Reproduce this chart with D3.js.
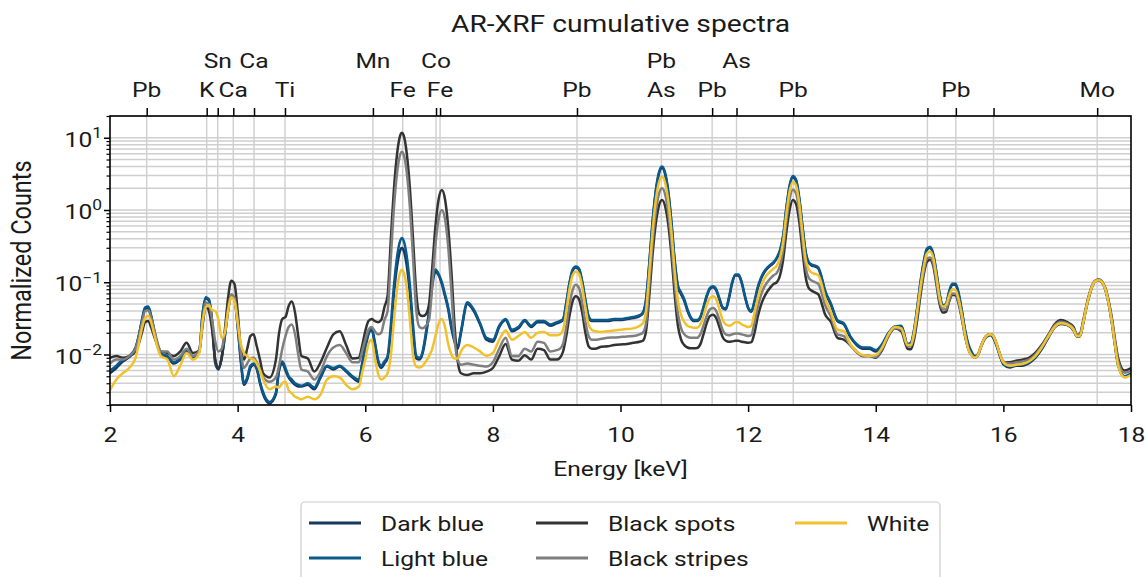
<!DOCTYPE html>
<html><head><meta charset="utf-8">
<script src="https://cdn.jsdelivr.net/npm/d3@7"></script>
<style>
body{margin:0;background:#fff}
svg{display:block}
text{font-family:Roboto,"Noto Sans",sans-serif;fill:#1a1a1a}
</style>
</head><body>
<svg id="c" width="1146" height="577"></svg>
<script>
// ---------------- data ----------------
const energy = [
2.0,2.1,2.2,2.3,2.4,2.45,2.5,2.55,2.6,2.65,2.7,2.75,2.8,
2.9,3.0,3.1,3.2,3.3,3.4,
3.45,3.5,3.55,3.6,3.65,3.7,3.75,3.8,3.85,3.9,3.95,4.0,
4.05,4.1,4.15,4.2,4.25,4.3,4.35,4.4,4.5,4.6,
4.65,4.7,4.75,4.8,4.85,4.9,4.95,5.0,
5.1,5.2,5.3,5.4,5.5,5.6,5.7,5.8,5.9,
5.95,6.0,6.05,6.1,6.15,6.2,6.25,6.3,
6.35,6.4,6.45,6.5,6.55,6.575,6.6,6.65,6.7,6.75,6.8,6.85,6.9,
6.95,7.0,7.05,7.1,7.15,7.2,7.25,7.3,7.35,7.4,7.45,7.5,
7.6,7.7,7.8,7.9,8.0,8.1,8.2,8.3,8.4,8.5,8.6,8.7,8.8,8.9,9.0,9.05,
9.1,9.15,9.2,9.25,9.3,9.35,9.4,9.45,9.5,9.55,9.6,
9.7,9.8,9.9,10.0,10.1,10.2,10.3,
10.35,10.4,10.45,10.5,10.55,10.6,10.65,10.7,10.75,10.8,10.85,10.9,
10.95,11.0,11.05,11.1,11.15,11.2,11.25,11.3,11.35,11.4,11.45,11.5,11.55,11.6,
11.65,11.7,11.75,11.8,11.85,11.9,11.95,12.0,12.05,12.1,12.15,12.2,12.25,12.3,12.35,12.4,
12.45,12.5,12.55,12.6,12.65,12.7,12.75,12.8,12.85,12.9,12.95,13.0,13.05,13.1,13.15,13.2,
13.3,13.4,13.5,13.6,13.7,13.8,13.9,14.0,14.1,14.2,14.3,14.4,14.5,
14.55,14.6,14.65,14.7,14.75,14.8,14.85,14.9,14.95,15.0,15.05,
15.1,15.15,15.2,15.25,15.3,15.35,15.4,15.45,15.5,
15.55,15.6,15.65,15.7,15.75,15.8,15.85,15.9,15.95,16.0,
16.1,16.2,16.3,16.4,16.5,16.6,16.7,16.8,16.9,17.0,17.1,
17.15,17.2,17.25,17.3,17.35,17.4,17.45,17.5,17.55,17.6,17.65,17.7,17.75,17.8,17.9,18.0
];

const darkBlue = [
0.0055,0.0065,0.008,0.0092,0.012,0.018,0.029,0.043,0.044,0.032,0.02,0.013,0.0098,
0.0092,0.0075,0.0085,0.011,0.009,0.011,
0.035,0.06,0.056,0.028,0.0075,0.0062,0.009,0.018,0.04,0.064,0.058,0.025,
0.008,0.0038,0.0045,0.0065,0.0072,0.0063,0.004,0.0028,0.0021,0.0028,
0.006,0.0075,0.006,0.0048,0.0042,0.0038,0.0036,0.0036,
0.0038,0.0033,0.0048,0.0068,0.0062,0.0068,0.0058,0.0048,0.0042,
0.007,0.012,0.019,0.022,0.014,0.008,0.0065,0.0075,
0.009,0.02,0.07,0.17,0.28,0.3,0.28,0.17,0.07,0.02,0.0088,0.0085,0.0105,
0.018,0.037,0.09,0.14,0.125,0.095,0.064,0.042,0.023,0.015,0.012,0.02,
0.05,0.04,0.026,0.016,0.015,0.024,0.03,0.021,0.023,0.029,0.024,0.028,0.028,0.025,0.027,0.028,
0.03,0.05,0.095,0.145,0.16,0.15,0.1,0.055,0.033,0.029,0.029,
0.029,0.029,0.03,0.03,0.031,0.032,0.034,
0.037,0.056,0.17,0.63,1.7,3.1,3.8,3.1,1.7,0.63,0.19,0.085,
0.068,0.055,0.04,0.032,0.029,0.029,0.032,0.044,0.063,0.08,0.085,0.077,0.058,0.044,
0.042,0.06,0.097,0.124,0.124,0.097,0.063,0.044,0.039,0.053,0.082,0.11,0.135,0.155,0.17,0.185,
0.215,0.27,0.43,1.05,2.1,2.85,2.55,1.45,0.6,0.26,0.185,0.17,0.165,0.155,0.115,0.078,
0.048,0.029,0.026,0.0175,0.0135,0.012,0.012,0.011,0.0135,0.0195,0.024,0.0245,0.0135,
0.014,0.021,0.043,0.095,0.18,0.28,0.3,0.24,0.135,0.068,0.046,
0.048,0.072,0.092,0.092,0.068,0.039,0.021,0.0135,0.0105,
0.0093,0.0098,0.0128,0.016,0.018,0.0185,0.0165,0.0128,0.0093,0.0073,
0.0066,0.007,0.007,0.0076,0.009,0.0118,0.0168,0.0235,0.0265,0.0255,0.0215,
0.0178,0.0178,0.0268,0.0445,0.067,0.091,0.104,0.106,0.098,0.078,0.05,0.0275,0.0132,0.007,0.0049,0.0054
];

const lightBlue = [
0.006,0.007,0.0085,0.0095,0.0125,0.018,0.03,0.045,0.046,0.033,0.02,0.013,0.0102,
0.0095,0.0078,0.0088,0.0112,0.0092,0.0112,
0.036,0.062,0.058,0.029,0.008,0.0065,0.009,0.018,0.042,0.066,0.06,0.026,
0.0085,0.004,0.0048,0.007,0.0075,0.0065,0.0042,0.003,0.0022,0.003,
0.0065,0.008,0.0065,0.005,0.0045,0.004,0.0038,0.0037,
0.004,0.0035,0.005,0.007,0.0065,0.007,0.006,0.005,0.0045,
0.0075,0.013,0.02,0.023,0.015,0.0085,0.007,0.008,
0.0095,0.025,0.09,0.23,0.38,0.41,0.38,0.23,0.09,0.025,0.0095,0.009,0.011,
0.02,0.04,0.1,0.15,0.13,0.1,0.068,0.045,0.025,0.016,0.013,0.021,
0.053,0.042,0.027,0.017,0.016,0.025,0.031,0.022,0.024,0.03,0.025,0.029,0.029,0.026,0.028,0.029,
0.031,0.052,0.098,0.15,0.165,0.155,0.103,0.057,0.034,0.03,0.03,
0.03,0.03,0.031,0.031,0.032,0.033,0.035,
0.038,0.058,0.18,0.66,1.78,3.25,4.0,3.25,1.78,0.66,0.2,0.09,
0.072,0.058,0.042,0.033,0.03,0.03,0.033,0.045,0.065,0.083,0.088,0.08,0.06,0.045,
0.043,0.062,0.1,0.128,0.128,0.1,0.065,0.045,0.04,0.055,0.085,0.115,0.14,0.16,0.175,0.19,
0.22,0.28,0.45,1.1,2.2,2.95,2.65,1.5,0.62,0.27,0.19,0.175,0.17,0.16,0.12,0.08,
0.05,0.03,0.027,0.018,0.014,0.0125,0.0125,0.0115,0.014,0.02,0.0245,0.025,0.014,
0.0145,0.022,0.045,0.1,0.19,0.29,0.31,0.25,0.14,0.07,0.048,
0.05,0.075,0.095,0.095,0.07,0.04,0.022,0.014,0.011,
0.0095,0.01,0.013,0.0165,0.0185,0.019,0.017,0.013,0.0095,0.0075,
0.0068,0.0072,0.0072,0.0078,0.0092,0.012,0.017,0.024,0.027,0.026,0.022,
0.018,0.018,0.027,0.045,0.068,0.092,0.105,0.107,0.099,0.079,0.051,0.028,0.0135,0.0072,0.005,0.0055
];

const blackSpots = [
0.009,0.0095,0.009,0.0095,0.011,0.014,0.02,0.028,0.029,0.023,0.017,0.013,0.011,
0.0105,0.0095,0.011,0.0145,0.0105,0.0115,
0.025,0.046,0.04,0.022,0.0085,0.0065,0.009,0.022,0.06,0.105,0.095,0.04,
0.012,0.0085,0.012,0.018,0.019,0.013,0.0085,0.0055,0.0048,0.0085,
0.02,0.031,0.033,0.047,0.054,0.038,0.018,0.0095,
0.0088,0.0058,0.0078,0.0125,0.019,0.021,0.0135,0.0088,0.009,
0.013,0.021,0.029,0.031,0.029,0.028,0.03,0.045,
0.065,0.38,1.97,6.1,10.9,11.7,10.9,6.1,1.97,0.38,0.07,0.036,0.034,
0.036,0.05,0.16,0.6,1.41,1.89,1.41,0.58,0.14,0.025,0.008,0.0055,
0.0052,0.0055,0.0055,0.0058,0.0065,0.0095,0.014,0.0085,0.0082,0.0098,0.0085,0.012,0.0115,0.0085,0.0085,0.009,
0.011,0.018,0.034,0.055,0.064,0.058,0.038,0.02,0.013,0.012,0.012,
0.0128,0.013,0.0135,0.0138,0.014,0.0145,0.015,
0.0155,0.021,0.063,0.23,0.62,1.12,1.37,1.12,0.62,0.23,0.066,0.025,
0.016,0.0135,0.0125,0.0122,0.0122,0.0123,0.0138,0.019,0.027,0.034,0.0355,0.032,0.024,0.0175,
0.0155,0.015,0.0152,0.0155,0.0155,0.015,0.0148,0.0145,0.0148,0.02,0.033,0.048,0.062,0.074,0.085,0.095,
0.1,0.125,0.21,0.5,1.0,1.37,1.22,0.7,0.28,0.12,0.083,0.076,0.072,0.068,0.052,0.037,
0.028,0.017,0.016,0.0135,0.0108,0.0095,0.0095,0.009,0.0115,0.018,0.023,0.021,0.012,
0.0118,0.016,0.03,0.065,0.125,0.19,0.205,0.17,0.095,0.05,0.038,
0.039,0.054,0.067,0.066,0.05,0.031,0.018,0.012,0.0098,
0.009,0.0098,0.013,0.0165,0.0185,0.019,0.0175,0.0135,0.0098,0.0078,
0.0078,0.0082,0.0085,0.009,0.0105,0.0135,0.0185,0.026,0.03,0.028,0.024,
0.019,0.0195,0.029,0.047,0.07,0.094,0.107,0.109,0.101,0.082,0.055,0.032,0.016,0.0088,0.006,0.0065
];

const blackStripes = [
0.0075,0.0085,0.0085,0.0095,0.012,0.017,0.027,0.04,0.041,0.031,0.021,0.014,0.011,
0.011,0.0085,0.0095,0.012,0.0095,0.0115,
0.028,0.052,0.05,0.03,0.015,0.011,0.012,0.02,0.042,0.068,0.062,0.03,
0.011,0.0065,0.0075,0.0088,0.009,0.0078,0.0062,0.0048,0.0042,0.0048,
0.007,0.012,0.018,0.024,0.026,0.019,0.01,0.0062,
0.0058,0.0045,0.0058,0.0095,0.0125,0.0135,0.0105,0.0078,0.0078,
0.011,0.016,0.022,0.024,0.021,0.019,0.02,0.03,
0.04,0.21,1.08,3.35,5.95,6.4,5.95,3.35,1.08,0.21,0.04,0.024,0.023,
0.025,0.03,0.09,0.33,0.75,1.0,0.75,0.31,0.075,0.016,0.0085,0.0072,
0.0075,0.0072,0.007,0.0068,0.0078,0.012,0.017,0.0095,0.0095,0.012,0.011,0.015,0.0145,0.011,0.0115,0.012,
0.014,0.024,0.048,0.078,0.092,0.083,0.052,0.028,0.018,0.016,0.016,
0.0165,0.017,0.0172,0.0175,0.0178,0.018,0.019,
0.02,0.027,0.09,0.33,0.9,1.63,2.0,1.63,0.9,0.33,0.095,0.037,
0.023,0.019,0.0175,0.017,0.017,0.017,0.019,0.025,0.034,0.042,0.044,0.04,0.03,0.022,
0.019,0.0185,0.019,0.0195,0.0195,0.019,0.0185,0.018,0.0185,0.028,0.045,0.066,0.085,0.1,0.113,0.125,
0.135,0.17,0.29,0.7,1.4,1.9,1.7,0.97,0.39,0.165,0.115,0.105,0.1,0.095,0.072,0.05,
0.033,0.019,0.018,0.0135,0.011,0.0095,0.0095,0.0092,0.012,0.0185,0.0235,0.022,0.013,
0.013,0.018,0.035,0.075,0.14,0.21,0.22,0.185,0.105,0.055,0.042,
0.042,0.056,0.07,0.069,0.052,0.032,0.018,0.012,0.0098,
0.009,0.0098,0.013,0.0165,0.0185,0.019,0.0175,0.0135,0.01,0.008,
0.0075,0.0078,0.008,0.0085,0.01,0.013,0.018,0.025,0.0285,0.027,0.023,
0.019,0.019,0.028,0.046,0.069,0.093,0.106,0.108,0.1,0.08,0.053,0.03,0.015,0.008,0.0056,0.006
];

const white = [
0.0032,0.0045,0.0055,0.0065,0.009,0.014,0.023,0.032,0.034,0.027,0.018,0.012,0.0095,
0.0085,0.005,0.007,0.0105,0.0085,0.0105,
0.028,0.045,0.048,0.041,0.04,0.03,0.017,0.02,0.04,0.062,0.055,0.028,
0.014,0.0105,0.0095,0.0088,0.0085,0.0075,0.006,0.0045,0.0033,0.0036,
0.0035,0.004,0.0042,0.0032,0.0029,0.0026,0.0025,0.0024,
0.0026,0.0024,0.0028,0.0045,0.005,0.0048,0.0038,0.0033,0.0036,
0.0055,0.0085,0.014,0.016,0.009,0.0055,0.0045,0.0048,
0.0055,0.0095,0.03,0.083,0.139,0.149,0.139,0.083,0.03,0.0095,0.0068,0.0066,0.007,
0.008,0.0095,0.012,0.018,0.027,0.031,0.024,0.014,0.01,0.0088,0.0088,0.011,
0.0135,0.0125,0.011,0.0095,0.0105,0.016,0.0215,0.016,0.018,0.0205,0.017,0.02,0.0205,0.0185,0.0185,0.019,
0.022,0.04,0.08,0.125,0.141,0.13,0.085,0.045,0.026,0.022,0.021,
0.0205,0.021,0.0215,0.022,0.0225,0.023,0.025,
0.027,0.04,0.13,0.48,1.3,2.36,2.89,2.36,1.3,0.48,0.14,0.055,
0.035,0.028,0.025,0.024,0.0235,0.0235,0.026,0.034,0.048,0.06,0.064,0.058,0.042,0.03,
0.026,0.025,0.026,0.028,0.028,0.026,0.025,0.024,0.025,0.038,0.06,0.085,0.11,0.128,0.142,0.155,
0.17,0.22,0.37,0.9,1.8,2.45,2.2,1.25,0.5,0.21,0.15,0.135,0.13,0.125,0.095,0.063,
0.038,0.022,0.021,0.014,0.011,0.0098,0.0095,0.0098,0.0125,0.019,0.024,0.023,0.0135,
0.0135,0.02,0.04,0.085,0.16,0.25,0.267,0.22,0.12,0.062,0.046,
0.048,0.065,0.08,0.078,0.058,0.035,0.019,0.012,0.0098,
0.009,0.0098,0.013,0.0165,0.0185,0.019,0.0175,0.0135,0.0098,0.0078,
0.007,0.0072,0.0074,0.008,0.0095,0.0125,0.0175,0.024,0.027,0.026,0.022,
0.018,0.018,0.027,0.045,0.068,0.092,0.105,0.107,0.099,0.079,0.051,0.028,0.0135,0.007,0.0048,0.0052
];

const seriesNames  = ["Dark blue","Light blue","Black spots","Black stripes","White"];
const seriesValues = [darkBlue, lightBlue, blackSpots, blackStripes, white];
const seriesColors = ["#17375e","#0b5a8c","#333333","#7f7f7f","#f2c12e"];

const xTicks = [2,4,6,8,10,12,14,16,18];
const yMajor = [0.01,0.1,1,10];
const yTickExp = ["\u22122","\u22121","0","1"];

// element lines (top axis), lower-row label and upper-row label
const elementEnergy = [2.575,3.515,3.688,3.932,4.257,4.742,6.12,6.587,7.109,7.172,9.318,10.64,11.436,11.818,12.707,14.81,15.255,15.846,17.47];
const elementLow    = ["Pb","K","","Ca","","Ti","","Fe","","Fe","Pb","As","Pb","","Pb","","Pb","","Mo"];
const elementHigh   = ["","","Sn","","Ca","","Mn","","Co","","","Pb","","As","","","","",""];

const titleText = "AR-XRF cumulative spectra";
const xLabel = "Energy [keV]";
const yLabel = "Normalized Counts";

// ---------------- drawing ----------------
const svg = d3.select("#c");
const X0 = 110, X1 = 1131, Y0 = 116, Y1 = 405;
const SX = 1.2;            // horizontal stretch of the text in the reference
const FS = 20.5;
const x = d3.scaleLinear().domain([2,18]).range([X0,X1]);
const y = d3.scaleLog().domain([0.002,20]).range([Y1,Y0]);
const gridColor = "#cfcfcf";

svg.append("rect").attr("width",1146).attr("height",577).attr("fill","#fff");

// horizontal grid (major + minor)
const gridVals = [];
const minorVals = [];
for (let k=-3;k<=1;k++) for (let m=1;m<=9;m++){
  const v = +(m*Math.pow(10,k)).toPrecision(6);
  if (v>=0.002 && v<=20){ gridVals.push(v); if (m!==1) minorVals.push(v); }
}
svg.append("g").selectAll("line").data(gridVals).join("line")
  .attr("x1",X0).attr("x2",X1).attr("y1",d=>y(d)).attr("y2",d=>y(d))
  .attr("stroke",gridColor).attr("stroke-width",1.4);
// vertical grid at element lines
svg.append("g").selectAll("line").data(elementEnergy).join("line")
  .attr("x1",d=>x(d)).attr("x2",d=>x(d)).attr("y1",Y0).attr("y2",Y1)
  .attr("stroke",gridColor).attr("stroke-width",1.4);

// spectra
svg.append("clipPath").attr("id","plotclip").append("rect")
  .attr("x",X0).attr("y",Y0).attr("width",X1-X0).attr("height",Y1-Y0);
const line = d3.line().curve(d3.curveMonotoneX);
const gLines = svg.append("g").attr("clip-path","url(#plotclip)");
seriesValues.forEach((vals,si)=>{
  const n = Math.min(vals.length, energy.length);
  if (vals.length!==energy.length) console.warn(seriesNames[si], vals.length, energy.length);
  const pts = d3.range(n).map(i=>[x(energy[i]), y(vals[i])]);
  gLines.append("path").attr("d",line(pts)).attr("fill","none")
    .attr("stroke",seriesColors[si]).attr("stroke-width",2.5)
    .attr("stroke-linejoin","round");
});

function styleAxis(g){
  g.attr("font-size",null).attr("font-family",null);
  g.select(".domain").remove();
  g.selectAll(".tick line").attr("stroke","#000").attr("stroke-width",1.5);
}

// bottom axis
const gx = svg.append("g").attr("transform",`translate(0,${Y1})`)
  .call(d3.axisBottom(x).tickValues(xTicks).tickSize(7).tickFormat(d3.format("d")));
styleAxis(gx);
gx.selectAll(".tick text").attr("y",37).attr("dy",null)
  .attr("transform",`scale(${SX},1)`).attr("font-size",FS).attr("fill","#1a1a1a");

// top axis (element lines)
const gt = svg.append("g").attr("transform",`translate(0,${Y0})`)
  .call(d3.axisTop(x).tickValues(elementEnergy).tickSize(8).tickFormat(""));
styleAxis(gt);
gt.selectAll(".tick text").remove();
elementEnergy.forEach((e,i)=>{
  [[elementLow[i],97],[elementHigh[i],68]].forEach(([lab,yy])=>{
    if (!lab) return;
    svg.append("g").attr("transform",`translate(${x(e)},${yy}) scale(${SX},1)`)
      .append("text").attr("text-anchor","middle").attr("font-size",FS).text(lab);
  });
});

// left axis: minor + major ticks
const gym = svg.append("g").attr("transform",`translate(${X0},0)`)
  .call(d3.axisLeft(y).tickValues(minorVals).tickSize(3.5).tickFormat(""));
styleAxis(gym);
gym.selectAll(".tick text").remove();
gym.selectAll(".tick line").attr("stroke-width",1.2);
const gy = svg.append("g").attr("transform",`translate(${X0},0)`)
  .call(d3.axisLeft(y).tickValues(yMajor).tickSize(6).tickFormat(""));
styleAxis(gy);
gy.selectAll(".tick text").each(function(d,i){
  const t = d3.select(this);
  t.text(null).attr("x",-8/SX).attr("y",8.5).attr("dy",null)
   .attr("text-anchor","end").attr("transform",`scale(${SX},1)`)
   .attr("font-size",FS).attr("fill","#1a1a1a");
  t.append("tspan").text("10");
  t.append("tspan").attr("dy",-8.5).attr("font-size",14.5).text(yTickExp[i]);
});

// frame
svg.append("rect").attr("x",X0).attr("y",Y0).attr("width",X1-X0).attr("height",Y1-Y0)
  .attr("fill","none").attr("stroke","#000").attr("stroke-width",1.6);

// title and axis labels
svg.append("g").attr("transform",`translate(${(X0+X1)/2},32) scale(${SX},1)`)
  .append("text").attr("text-anchor","middle").attr("font-size",23.5).text(titleText);
svg.append("g").attr("transform",`translate(${(X0+X1)/2},476) scale(${SX},1)`)
  .append("text").attr("text-anchor","middle").attr("font-size",FS).text(xLabel);
svg.append("g").attr("transform",`translate(31,${(Y0+Y1)/2}) scale(${SX},1) rotate(-90)`)
  .append("text").attr("text-anchor","middle").attr("font-size",23.5).text(yLabel);

// legend
const leg = svg.append("g");
leg.append("rect").attr("x",301).attr("y",502).attr("width",639).attr("height",100)
  .attr("rx",4).attr("fill","#fff").attr("stroke","#cccccc").attr("stroke-width",1.2);
const colLineX = [309,536,795], colTextX = [381,608,867], rowY = [523,558];
seriesNames.forEach((nm,i)=>{
  const c = Math.floor(i/2), r = i%2;
  leg.append("line").attr("x1",colLineX[c]).attr("x2",colLineX[c]+52)
    .attr("y1",rowY[r]).attr("y2",rowY[r]).attr("stroke",seriesColors[i]).attr("stroke-width",3);
  leg.append("g").attr("transform",`translate(${colTextX[c]},${rowY[r]+7.5}) scale(${SX},1)`)
    .append("text").attr("font-size",FS).text(nm);
});
</script>
</body></html>
